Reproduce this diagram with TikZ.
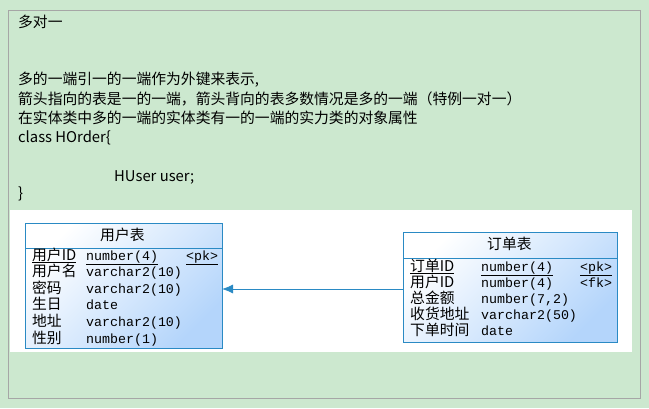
\documentclass[tikz,border=0pt]{standalone}
\usepackage{fontspec}
\setmainfont{Noto Sans CJK SC}
\setmonofont{Liberation Mono}
\usetikzlibrary{arrows.meta}
\definecolor{bggreen}{HTML}{CCE8CF}
\definecolor{tblline}{HTML}{2A8AC4}
\definecolor{tblblue}{HTML}{B4D5FB}
\newcommand\mono[1]{{\fontsize{13.3}{14}\ttfamily #1}}
\tikzset{
  note/.style={anchor=base west,inner sep=0pt,font=\fontsize{14.8}{16}\selectfont},
  cell/.style={anchor=base west,inner sep=0pt,font=\fontsize{14.8}{16}\selectfont},
  tbl/.style={draw=tblline,left color=white,right color=tblblue,shading angle=45}
}
\begin{document}
\begin{tikzpicture}[x=1pt,y=-1pt]
      \useasboundingbox (0,0) rectangle (649,408);
      \fill[bggreen] (0,0) rectangle (649,408);
      \draw[gray!70] (8,10) rectangle (640,398);
      \fill[white] (10,210) rectangle (632,352);

      % notes
      \node[note] (title) at (18,27) {多对一};
      \node[note] (l1) at (18,84) {多的一端引一的一端作为外键来表示,};
      \node[note] (l2) at (18,104) {箭头指向的表是一的一端，箭头背向的表多数情况是多的一端（特例一对一）};
      \node[note] (l3) at (18,123) {在实体类中多的一端的实体类有一的一端的实力类的对象属性};
      \node[note] (l4) at (18,142) {class HOrder\{};
      \node[note] (l5) at (114,181) {HUser user;};
      \node[note] (l6) at (18,198) {\}};

      % user table
      \shade[tbl] (25,223) rectangle (222,348);
      \draw[tblline] (25,223) rectangle (222,348);
      \draw[tblline] (25,248) -- (222,248);
      \node[cell] (uh) at (100,240) {用户表};
      \foreach \n/\t [count=\i] in {{用户名}/varchar2(10),密码/varchar2(10),生日/date,地址/varchar2(10),性别/number(1)}
        {
          \node[cell] at (32,260+16.6*\i) {\n};
          \node[cell] at (86,260+16.6*\i) {\mono{\t}};
        }
      \node[cell] (uid) at (32,260) {\underline{用户ID}};
      \node[cell] at (86,260) {\mono{\underline{number(4)}}};
      \node[cell] at (186,260) {\mono{\underline{<pk>}}};

      % order table
      \shade[tbl] (403,232) rectangle (617,342);
      \draw[tblline] (403,232) rectangle (617,342);
      \draw[tblline] (403,258) -- (617,258);
      \node[cell] (oh) at (487,249) {订单表};
      \node[cell] at (410,271) {\underline{订单ID}};
      \node[cell] at (481,271) {\mono{\underline{number(4)}}};
      \node[cell] at (580,271) {\mono{\underline{<pk>}}};
      \foreach \n/\t [count=\i] in {用户ID/number(4),总金额/{number(7,2)},收货地址/varchar2(50),下单时间/date}
        {
          \node[cell] at (410,271+16*\i) {\n};
          \node[cell] at (481,271+16*\i) {\mono{\t}};
        }
      \node[cell] at (580,287) {\mono{<fk>}};

      % reference
      \coordinate (oref) at (403,289);
      \coordinate (uref) at (222,289);
      \draw[tblline,thick,-{Latex[length=11pt,width=9pt]}] (oref) -- (uref);
\end{tikzpicture}
\end{document}
